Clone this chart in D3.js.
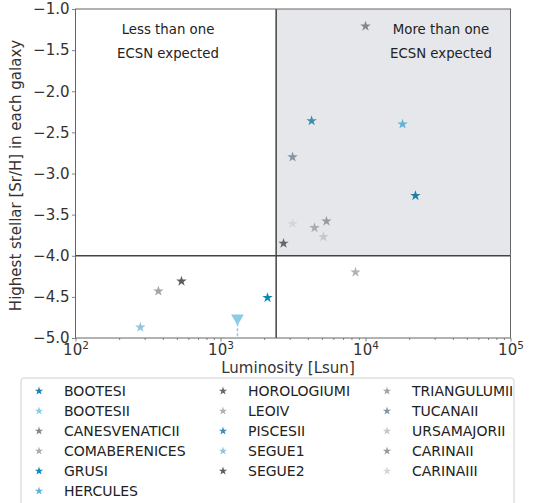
<!DOCTYPE html>
<html><head><meta charset="utf-8">
<script src="https://cdn.jsdelivr.net/npm/d3@7"></script>
<style>
body{margin:0;background:#fff;}
text{font-family:"DejaVu Sans",sans-serif;}
</style></head>
<body><svg id="c" width="533" height="503"></svg>
<script>
const names = ["BOOTESI","BOOTESII","CANESVENATICII","COMABERENICES","GRUSI","HERCULES",
  "HOROLOGIUMI","LEOIV","PISCESII","SEGUE1","SEGUE2",
  "TRIANGULUMII","TUCANAII","URSAMAJORII","CARINAII","CARINAIII"];
const luminosity = [22100, 1310, 10000, 4450, 2110, 18000,
  2720, 8530, 4250, 280, 538,
  373, 3140, 5130, 5380, 3140];
const srh = [-3.27, -4.76, -1.21, -3.66, -4.51, -2.40,
  -3.85, -4.20, -2.36, -4.87, -4.31,
  -4.43, -2.80, -3.77, -3.58, -3.61];
const upperLimit = [false, true, false, false, false, false,
  false, false, false, false, false,
  false, false, false, false, false];
const colors = ["#1b7fad","#8ccbe6","#858585","#acacac","#0889bb","#5db3d8",
  "#666666","#b2b2b2","#3d8db0","#95c4dc","#5c5c5c",
  "#a3a3a3","#8496a6","#c6c6c6","#999999","#d6d6d6"];
const xTicks = [1e2, 1e3, 1e4, 1e5];
const yTicks = [-1.0, -1.5, -2.0, -2.5, -3.0, -3.5, -4.0, -4.5, -5.0];
const lumThreshold = 2420;
const srThreshold = -4.0;
const regionLabels = [["Less than one","ECSN expected"],["More than one","ECSN expected"]];

const svg = d3.select("#c");
const L = 75.5, R = 510.5, T = 9, B = 338;
const x = d3.scaleLog().domain([1e2, 1e5]).range([L, R]);
const y = d3.scaleLinear().domain([-5, -1]).range([B, T]);

// shaded region
svg.append("rect").attr("x", x(lumThreshold)).attr("y", y(-1))
  .attr("width", x(1e5) - x(lumThreshold)).attr("height", y(srThreshold) - y(-1))
  .attr("fill", "#e6e7ea");

// threshold lines
svg.append("line").attr("x1", x(lumThreshold)).attr("x2", x(lumThreshold))
  .attr("y1", T).attr("y2", B).attr("stroke", "#444").attr("stroke-width", 1.5);
svg.append("line").attr("x1", L).attr("x2", R)
  .attr("y1", y(srThreshold)).attr("y2", y(srThreshold)).attr("stroke", "#444").attr("stroke-width", 1.5);

// region labels
const lx = [168, 441];
regionLabels.forEach((lines, i) => {
  lines.forEach((t, j) => {
    svg.append("text").attr("x", lx[i]).attr("y", 34 + j * 24)
      .attr("text-anchor", "middle").attr("font-size", 13.3).attr("fill", "#222").text(t);
  });
});

// axes
const minor = [];
[1e2, 1e3, 1e4].forEach(d => { for (let k = 2; k <= 9; k++) minor.push(d * k); });
const gxm = svg.append("g").attr("transform", `translate(0,${B})`)
  .call(d3.axisBottom(x).tickValues(minor).tickSize(2).tickFormat(""));
const gx = svg.append("g").attr("transform", `translate(0,${B})`)
  .call(d3.axisBottom(x).tickValues(xTicks).tickSize(3.5).tickFormat(""));
gx.selectAll(".tick").each(function(d) {
  const t = d3.select(this).append("text").attr("y", 17).attr("fill", "#333")
    .attr("text-anchor", "middle").attr("font-size", 15);
  t.append("tspan").text("10");
  t.append("tspan").attr("dy", -6).attr("font-size", 10.5).text(Math.round(Math.log10(d)));
});
const gy = svg.append("g").attr("transform", `translate(${L},0)`)
  .call(d3.axisLeft(y).tickValues(yTicks).tickSize(3.5)
    .tickFormat(d => d3.format(".1f")(d).replace("-", "\u2212")));
gy.selectAll("text").attr("font-size", 15).attr("fill", "#333").attr("x", -6);
[gx, gxm, gy].forEach(g => {
  g.select(".domain").remove();
  g.selectAll("line").attr("stroke", "#666").attr("stroke-width", 0.8);
});

// spines
svg.append("rect").attr("x", L).attr("y", T).attr("width", R - L).attr("height", B - T)
  .attr("fill", "none").attr("stroke", "#666").attr("stroke-width", 1);

// points
const star = d3.symbol().type(d3.symbolStar).size(34);
const tri = d3.symbol().type(d3.symbolTriangle).size(70);
names.forEach((n, i) => {
  const px = x(luminosity[i]), py = y(srh[i]);
  if (upperLimit[i]) {
    svg.append("line").attr("x1", px).attr("x2", px).attr("y1", py).attr("y2", B)
      .attr("stroke", colors[i]).attr("stroke-width", 1.5).attr("stroke-dasharray", "3,2");
    svg.append("path").attr("d", tri()).attr("fill", colors[i])
      .attr("transform", `translate(${px},${py}) rotate(180)`);
  } else {
    svg.append("path").attr("d", star()).attr("fill", colors[i])
      .attr("transform", `translate(${px},${py})`);
  }
});

// legend
svg.append("rect").attr("x", 21).attr("y", 378).attr("width", 493).attr("height", 135)
  .attr("rx", 3).attr("fill", "#fff").attr("stroke", "#d0d0d0");
const colX = [39, 223, 387];
const colCounts = [6, 5, 5];
let idx = 0;
colCounts.forEach((cnt, c) => {
  for (let r = 0; r < cnt; r++, idx++) {
    const yy = 391 + r * 20;
    svg.append("path").attr("d", d3.symbol().type(d3.symbolStar).size(22)())
      .attr("fill", colors[idx]).attr("transform", `translate(${colX[c]},${yy})`);
    svg.append("text").attr("x", colX[c] + 25).attr("y", yy + 5).attr("font-size", 14)
      .attr("fill", "#222").text(names[idx]);
  }
});

// axis labels
svg.append("text").attr("x", 288).attr("y", 373).attr("text-anchor", "middle")
  .attr("font-size", 15).attr("fill", "#333").text("Luminosity [Lsun]");
svg.append("text").attr("transform", `translate(21,${(T + B) / 2 + 2}) rotate(-90)`)
  .attr("text-anchor", "middle").attr("font-size", 15).attr("fill", "#333")
  .text("Highest stellar [Sr/H] in each galaxy");
</script></body></html>
